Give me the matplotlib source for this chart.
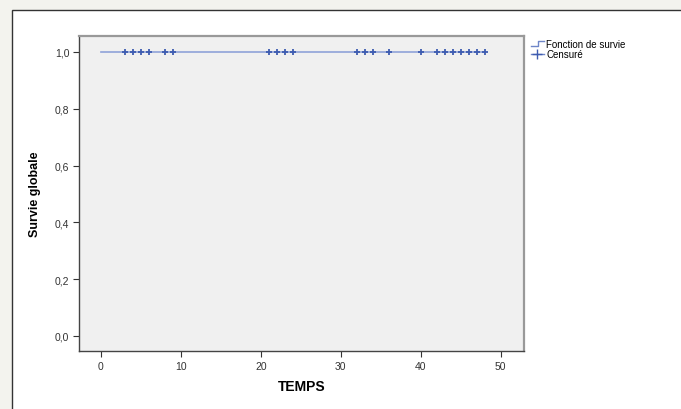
import matplotlib
matplotlib.use("Agg")
import matplotlib.pyplot as plt
from matplotlib.patches import Rectangle
from matplotlib.lines import Line2D
from matplotlib.legend_handler import HandlerBase

# Data
times_line = [0, 48]
surv_line = [1.0, 1.0]
censor_times = [3, 4, 5, 6, 8, 9, 21, 22, 23, 24, 32, 33, 34, 36, 40, 42, 43, 44, 45, 46, 47, 48]
censor_surv = [1.0] * len(censor_times)
xticks = [0, 10, 20, 30, 40, 50]
yticks = [0.0, 0.2, 0.4, 0.6, 0.8, 1.0]
ytick_labels = ["0,0", "0,2", "0,4", "0,6", "0,8", "1,0"]

plt.rcParams['font.family'] = ['Liberation Sans', 'DejaVu Sans']

fig = plt.figure(figsize=(6.81, 4.10), dpi=100)
fig.patch.set_facecolor('#f3f3ee')
# white panel
fig.patches.append(Rectangle((12/681, -0.01), 1.0, (410-11)/410 + 0.01, transform=fig.transFigure,
                             facecolor='white', edgecolor='#333333', linewidth=1.0, zorder=-10))

ax = fig.add_axes([79/681, 58/410, (524-79)/681, (352-37)/410])
ax.set_facecolor('#f0f0f0')

ax.step(times_line, surv_line, where='post', color='#8fa2d8', linewidth=1.2, label='Fonction de survie')
ax.plot(censor_times, censor_surv, linestyle='none', marker='+', markersize=5,
        markeredgewidth=1.3, color='#3e5cb0', label='Censuré')

ax.set_xlim(-2.75, 52.9)
ax.set_ylim(-0.053, 1.056)
ax.set_xticks(xticks)
ax.set_yticks(yticks)
ax.set_yticklabels(ytick_labels)
ax.tick_params(axis='both', direction='out', length=4, width=0.8, labelsize=7.5, colors='#333333', pad=3)

for s in ['left', 'bottom']:
    ax.spines[s].set_color('#444444')
    ax.spines[s].set_linewidth(1.0)
for s in ['top', 'right']:
    ax.spines[s].set_color('#999999')
    ax.spines[s].set_linewidth(1.6)

ax.set_xlabel('TEMPS', fontsize=10, fontweight='bold', labelpad=6)
ax.set_ylabel('Survie globale', fontsize=9, fontweight='bold', labelpad=10)


class StepHandler(HandlerBase):
    def create_artists(self, legend, orig_handle, xdescent, ydescent, width, height, fontsize, trans):
        w = width
        xs = [0, w * 0.55, w * 0.55, w]
        ys = [height * 0.2, height * 0.2, height * 0.8, height * 0.8]
        ln = Line2D(xs, ys, color='#6f86c8', linewidth=1.0, transform=trans)
        return [ln]


class CensorHandler(HandlerBase):
    def create_artists(self, legend, orig_handle, xdescent, ydescent, width, height, fontsize, trans):
        ln = Line2D([0, width], [height / 2, height / 2], color='#6f86c8', linewidth=1.0, transform=trans)
        mk = Line2D([width * 0.45], [height / 2], marker='+', markersize=7, markeredgewidth=1.0,
                    color='#3e5cb0', linestyle='none', transform=trans)
        return [ln, mk]


h1 = Line2D([], [], label='Fonction de survie')
h2 = Line2D([], [], label='Censuré')
fig.legend(handles=[h1, h2], labels=['Fonction de survie', 'Censuré'],
           handler_map={h1: StepHandler(), h2: CensorHandler()},
           loc='upper left', bbox_to_anchor=(526/681, (410-35)/410), frameon=False,
           fontsize=7, handlelength=1.4, handletextpad=0.2, labelspacing=0.05, borderpad=0)

fig.savefig('out.png', dpi=100, facecolor=fig.get_facecolor())
